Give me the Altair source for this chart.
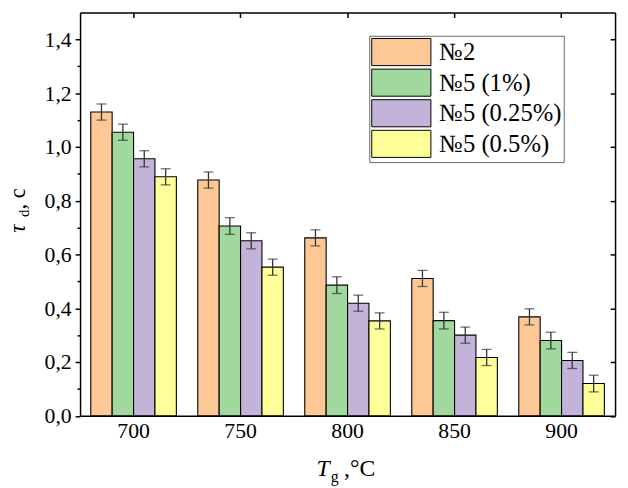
import altair as alt
import pandas as pd

temps = ["700", "750", "800", "850", "900"]
series = ["№2", "№5 (1%)", "№5 (0.25%)", "№5 (0.5%)"]
v_no2 = [1.130, 0.877, 0.662, 0.511, 0.368]
v_1pct = [1.055, 0.706, 0.486, 0.354, 0.280]
v_025pct = [0.956, 0.651, 0.419, 0.300, 0.206]
v_05pct = [0.889, 0.553, 0.353, 0.217, 0.120]
e_no2 = [0.030, 0.030, 0.030, 0.030, 0.030]
e_1pct = [0.030, 0.031, 0.031, 0.031, 0.031]
e_025pct = [0.030, 0.030, 0.030, 0.030, 0.030]
e_05pct = [0.030, 0.030, 0.030, 0.030, 0.031]
colors = ["#FDC896", "#A0D89E", "#C3B3D8", "#FFFF99"]
y_major = [0.0, 0.2, 0.4, 0.6, 0.8, 1.0, 1.2, 1.4]
y_minor = [0.1, 0.3, 0.5, 0.7, 0.9, 1.1, 1.3]

vals = [v_no2, v_1pct, v_025pct, v_05pct]
errs = [e_no2, e_1pct, e_025pct, e_05pct]
rows = []
for s, vv, ee in zip(series, vals, errs):
    for t, v, e in zip(temps, vv, ee):
        rows.append({"T": t, "S": s, "v": v, "lo": v - e, "hi": v + e})
df = pd.DataFrame(rows)

W = 542
H = 408.5
FONT = "Liberation Serif"
yscale = alt.Scale(domain=[0, 1.5], nice=False, zero=True)
xscale = alt.Scale(paddingInner=0.2, paddingOuter=0.1)
xoff = alt.XOffset("S:N", sort=series, scale=alt.Scale(paddingInner=0, paddingOuter=0))

bars = alt.Chart(df).mark_bar(stroke="black", strokeWidth=1.1, opacity=1).encode(
    x=alt.X("T:N", sort=temps, scale=xscale,
            axis=alt.Axis(title=None, labelAngle=0, ticks=False, tickSize=0, labelPadding=5,
                          labelFont=FONT, labelFontSize=22, labelColor="black",
                          domainColor="black", domainWidth=1.5)),
    xOffset=xoff,
    y=alt.Y("v:Q", scale=yscale,
            axis=alt.Axis(title=None, values=y_major, orient="left", tickSize=5, tickWidth=1.5,
                          tickColor="black", domainColor="black", domainWidth=1.5,
                          labelExpr="replace(format(datum.value, '.1f'), '.', ',')",
                          labelFont=FONT, labelFontSize=22, labelColor="black", labelPadding=4,
                          grid=False)),
    fill=alt.Fill("S:N", sort=series, scale=alt.Scale(domain=series, range=colors),
                  legend=alt.Legend(orient="none", legendX=293, legendY=23.5, title=None,
                                    strokeColor="#666", fillColor="white", padding=2,
                                    symbolType="M-1,-0.98L3.28,-0.98L3.28,0.98L-1,0.98Z",
                                    symbolSize=784, symbolStrokeColor="black",
                                    symbolStrokeWidth=1, symbolOpacity=1,
                                    labelFont=FONT, labelFontSize=25, labelColor="black",
                                    labelOffset=40, rowPadding=-2)),
)

rules = alt.Chart(df).mark_rule(color="#333", strokeWidth=1.3).encode(
    x=alt.X("T:N", sort=temps, scale=xscale,
            axis=alt.Axis(title=None, orient="bottom", offset=-H, labels=False, ticks=True,
                          tickSize=5, tickWidth=1.5, tickColor="black",
                          domainColor="black", domainWidth=1.5)),
    xOffset=xoff,
    y=alt.Y("lo:Q", scale=yscale,
            axis=alt.Axis(title=None, orient="left", values=y_minor, tickSize=3, tickWidth=1.5,
                          tickColor="black", labels=False, domain=False, grid=False)),
    y2="hi:Q",
)

caps_lo = alt.Chart(df).mark_tick(color="#333", size=10, thickness=1.3).encode(
    x=alt.X("T:N", sort=temps, scale=xscale, axis=None),
    xOffset=xoff,
    y=alt.Y("lo:Q", scale=yscale,
            axis=alt.Axis(title=None, orient="left", offset=-W, values=y_major, tickSize=5,
                          tickWidth=1.5, tickColor="black", labels=False,
                          domainColor="black", domainWidth=1.5, grid=False)),
)
caps_hi = alt.Chart(df).mark_tick(color="#333", size=10, thickness=1.3).encode(
    x=alt.X("T:N", sort=temps, scale=xscale, axis=None),
    xOffset=xoff,
    y=alt.Y("hi:Q", scale=yscale, axis=None),
)

one = alt.Data(values=[{"a": 1}])
def txt(s, x, y, size=24, italic=False, angle=0):
    return alt.Chart(one).mark_text(text=s, font=FONT, fontSize=size, color="black",
                                    fontStyle="italic" if italic else "normal",
                                    align="left", baseline="alphabetic", angle=angle).encode(
        x=alt.value(x), y=alt.value(y))

titles = [
    txt("T", 239.5, 469.5, 24, True),
    txt("g", 254, 475.5, 16),
    txt(",°C", 267.5, 469.5, 24),
    txt("τ", -56, 223, 23, True, 270),
    txt("d", -51.5, 207, 15, False, 270),
    txt(", c", -56, 199.5, 23, False, 270),
]

chart = alt.layer(bars, rules, caps_lo, caps_hi, *titles).resolve_axis(
    x="independent", y="independent"
).properties(
    width=W, height=H,
    autosize=alt.AutoSizeParams(type="none"),
    padding={"left": 73, "top": 1.5, "right": 5, "bottom": 70},
).configure_view(stroke=None)

chart.save("out.html", embed_options={"renderer": "svg", "actions": False})
